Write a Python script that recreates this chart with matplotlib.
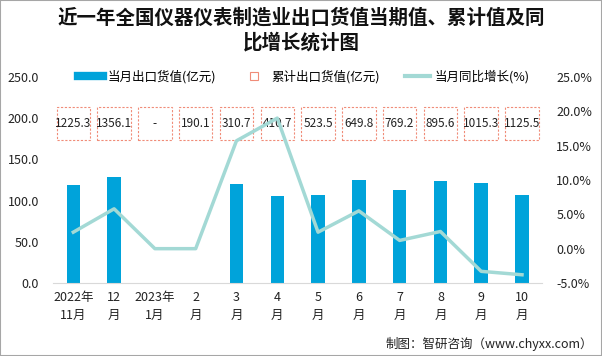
import matplotlib
matplotlib.use("Agg")
import matplotlib.pyplot as plt
from matplotlib.lines import Line2D
from matplotlib.patches import Rectangle
from matplotlib.ticker import FuncFormatter, MultipleLocator

plt.rcParams['font.family'] = ['Noto Sans CJK SC', 'DejaVu Sans']

months = ["2022年\n11月", "12\n月", "2023年\n1月", "2\n月", "3\n月", "4\n月",
          "5\n月", "6\n月", "7\n月", "8\n月", "9\n月", "10\n月"]
month_value = [119, 129, None, None, 120, 105.5, 107, 125, 113, 124, 121.5, 107]
cum_labels = ["1225.3", "1356.1", "-", "190.1", "310.7", "410.7",
              "523.5", "649.8", "769.2", "895.6", "1015.3", "1125.5"]
yoy_pct = [2.4, 5.8, 0.0, 0.0, 15.7, 19.0, 2.4, 5.5, 1.2, 2.5, -3.3, -3.8]

bar_color = "#00A3DA"
line_color = "#A3D9D5"
box_color = "#F08C78"

fig = plt.figure(figsize=(6.02, 3.56), dpi=100)
ax = fig.add_axes([0.0879, 0.205, 0.8131, 0.579])
ax2 = ax.twinx()

x = list(range(len(months)))
bx = [i for i, v in zip(x, month_value) if v is not None]
bv = [v for v in month_value if v is not None]
ax.bar(bx, bv, width=0.33, color=bar_color, zorder=2)

ax2.plot(x, yoy_pct, color=line_color, lw=2.5, zorder=3)

# cumulative value boxes
for i, lab in enumerate(cum_labels):
    ax.add_patch(Rectangle((i - 0.41, 173.5), 0.82, 40.5, fill=False,
                           ec=box_color, ls=(0, (2, 1.5)), lw=0.8, zorder=4))
    ax.text(i, 193.5, lab, ha="center", va="center", fontsize=8.5,
            color="#222222", zorder=5)

ax.set_xlim(-0.5, len(months) - 0.5)
ax.set_ylim(0, 250)
ax2.set_ylim(-5, 25)
ax.yaxis.set_major_locator(MultipleLocator(50))
ax2.yaxis.set_major_locator(MultipleLocator(5))
ax.yaxis.set_major_formatter(FuncFormatter(lambda v, p: f"{v:.1f}"))
ax2.yaxis.set_major_formatter(FuncFormatter(lambda v, p: f"{v:.1f}%"))

ax.set_xticks(x)
ax.set_xticklabels(months, fontsize=9, color="#222222", linespacing=1.5)
ax.tick_params(axis="both", length=0, labelsize=9, colors="#222222")
ax.tick_params(axis="x", pad=6)
ax.tick_params(axis="y", pad=10)
ax2.tick_params(axis="y", length=0, labelsize=9, colors="#222222", pad=10)

for a in (ax, ax2):
    for s in a.spines.values():
        s.set_visible(False)
ax.spines["bottom"].set_visible(True)
ax.spines["bottom"].set_color("#D9D9D9")

handles = [
    Line2D([], [], color=bar_color, lw=6),
    Line2D([], [], color=box_color, lw=0, marker="s", markersize=6,
           markerfacecolor="none", markeredgewidth=0.8),
    Line2D([], [], color=line_color, lw=3),
]
fig.legend(handles, ["当月出口货值(亿元)", "累计出口货值(亿元)", "当月同比增长(%)"],
           loc="center", bbox_to_anchor=(0.505, 0.785), ncol=3, frameon=False,
           fontsize=9, handlelength=2.0, columnspacing=2.0, handletextpad=0.4)

fig.text(0.5, 0.915, "近一年全国仪器仪表制造业出口货值当期值、累计值及同\n比增长统计图",
         ha="center", va="center", fontsize=14, fontweight="bold",
         linespacing=1.35, color="#111111")

fig.text(0.985, 0.035, "制图：智研咨询（www.chyxx.com）", ha="right",
         va="center", fontsize=9, color="#222222")

fig.add_artist(Rectangle((0, 0), 1, 1, transform=fig.transFigure, fill=False,
                         ec="#A6A6A6", lw=1.5))

fig.savefig("out.png", dpi=100)
